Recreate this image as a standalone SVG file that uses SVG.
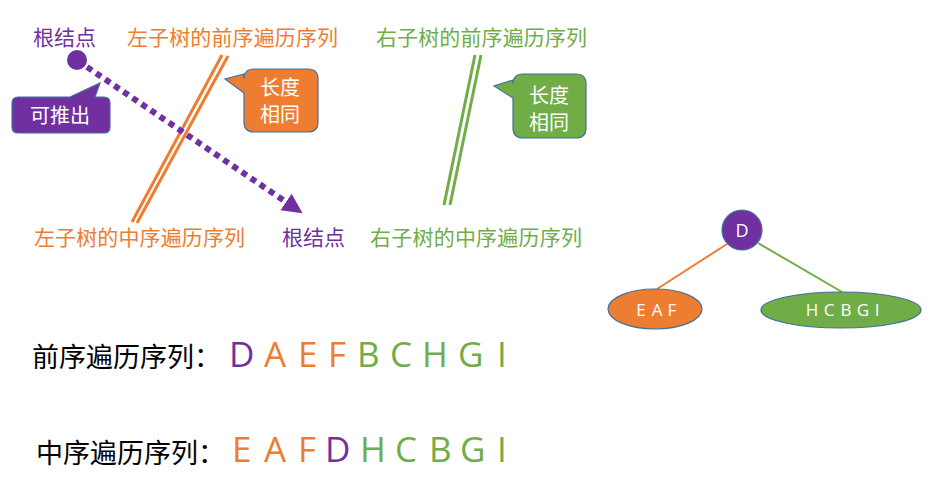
<svg xmlns="http://www.w3.org/2000/svg" width="945" height="496" viewBox="0 0 945 496">
  <style>
    .cjk { font-family: "Noto Sans CJK SC", "Noto Sans", sans-serif; }
    .lat { font-family: "Open Sans", "Liberation Sans", sans-serif; }
    .purple { fill: #7030A0; }
    .orange { fill: #ED7D31; }
    .green { fill: #70AD47; }
    .callout { stroke: #41719C; stroke-width: 1.2; }
    .ctext { fill: #FFFFFF; font-size: 20px; text-anchor: middle; }
    .node { stroke: #41719C; stroke-width: 1.2; }
    .ntext { fill: #FFFFFF; text-anchor: middle; }
    .seq { font-size: 35px; }
  </style>
  <defs>
    <marker id="arrowhead" markerUnits="userSpaceOnUse" markerWidth="22" markerHeight="22" refX="0" refY="10" orient="auto" viewBox="0 0 22 22">
      <path d="M0,0 L20,10 L0,20 Z" fill="#7030A0"/>
    </marker>
  </defs>

  <rect width="945" height="496" fill="#FFFFFF"/>

  <!-- labels along the top -->
  <g id="root-label-top" class="cjk" font-size="21">
    <text x="33" y="45" class="purple">根结点</text>
  </g>
  <g id="left-preorder-label" class="cjk" font-size="21">
    <text x="127" y="45" class="orange" textLength="211">左子树的前序遍历序列</text>
  </g>
  <g id="right-preorder-label" class="cjk" font-size="21">
    <text x="376" y="45" class="green" textLength="211">右子树的前序遍历序列</text>
  </g>

  <!-- labels along the middle -->
  <g id="left-inorder-label" class="cjk" font-size="21">
    <text x="34" y="245" class="orange" textLength="211">左子树的中序遍历序列</text>
  </g>
  <g id="root-label-bottom" class="cjk" font-size="21">
    <text x="282" y="245" class="purple">根结点</text>
  </g>
  <g id="right-inorder-label" class="cjk" font-size="21">
    <text x="370" y="245" class="green" textLength="212">右子树的中序遍历序列</text>
  </g>

  <!-- root marker dot -->
  <g id="root-dot">
    <circle cx="77" cy="60" r="10" fill="#7030A0"/>
  </g>

  <!-- connectors: equal-length bars and the dotted derivation arrow -->
  <g id="connectors">
    <line x1="222" y1="55" x2="132" y2="222" stroke="#ED7D31" stroke-width="3"/>
    <line x1="228" y1="56" x2="137" y2="223" stroke="#ED7D31" stroke-width="3"/>
    <line x1="475" y1="55" x2="444" y2="205" stroke="#70AD47" stroke-width="3"/>
    <line x1="481" y1="55" x2="450" y2="205" stroke="#70AD47" stroke-width="3"/>
    <line x1="87" y1="67" x2="286" y2="202" stroke="#7030A0" stroke-width="6" stroke-dasharray="6 5" marker-end="url(#arrowhead)"/>
    <line x1="727" y1="244" x2="657" y2="289" stroke="#ED7D31" stroke-width="2"/>
    <line x1="758" y1="243" x2="842" y2="292" stroke="#70AD47" stroke-width="2"/>
  </g>

  <!-- callouts -->
  <g id="callout-derive">
    <path class="callout" fill="#7030A0" d="M18,97 L70,97 L100,83 L95,97 L104,97 Q110,97 110,103 L110,127 Q110,133 104,133 L18,133 Q12,133 12,127 L12,103 Q12,97 18,97 Z"/>
    <text class="cjk ctext" x="60" y="123" font-size="21">可推出</text>
  </g>
  <g id="callout-left-length">
    <path class="callout" fill="#ED7D31" d="M254,69 L308,69 Q318,69 318,79 L318,122 Q318,132 308,132 L254,132 Q244,132 244,122 L244,93 L225,79 L244,74 L244,79 Q244,69 254,69 Z"/>
    <text class="cjk ctext" x="280" y="95">长度</text>
    <text class="cjk ctext" x="280" y="122">相同</text>
  </g>
  <g id="callout-right-length">
    <path class="callout" fill="#70AD47" d="M523,74 L576,74 Q586,74 586,84 L586,128 Q586,138 576,138 L523,138 Q513,138 513,128 L513,98 L494,86 L513,80 L513,84 Q513,74 523,74 Z"/>
    <text class="cjk ctext" x="549" y="103">长度</text>
    <text class="cjk ctext" x="549" y="130">相同</text>
  </g>

  <!-- small tree -->
  <g id="node-D">
    <circle class="node" cx="742" cy="230" r="20" fill="#7030A0"/>
    <text class="lat ntext" x="742" y="237" font-size="18">D</text>
  </g>
  <g id="node-EAF">
    <ellipse class="node" cx="655" cy="309" rx="47" ry="20" fill="#ED7D31"/>
    <text class="lat ntext" y="316" font-size="17"><tspan x="641">E</tspan><tspan x="657">A</tspan><tspan x="672">F</tspan></text>
  </g>
  <g id="node-HCBGI">
    <ellipse class="node" cx="841" cy="310" rx="80" ry="18" fill="#70AD47"/>
    <text class="lat ntext" y="316" font-size="17"><tspan x="812">H</tspan><tspan x="829">C</tspan><tspan x="846">B</tspan><tspan x="863">G</tspan><tspan x="877">I</tspan></text>
  </g>

  <!-- traversal sequences -->
  <g id="preorder-row">
    <text class="cjk" x="32" y="367" font-size="27" fill="#000000">前序遍历序列：</text>
    <text class="lat seq" y="367">
      <tspan x="229" fill="#7030A0">D</tspan>
      <tspan x="264" fill="#ED7D31">A</tspan>
      <tspan x="298" fill="#ED7D31">E</tspan>
      <tspan x="328" fill="#ED7D31">F</tspan>
      <tspan x="357" fill="#70AD47">B</tspan>
      <tspan x="390" fill="#70AD47">C</tspan>
      <tspan x="422" fill="#70AD47">H</tspan>
      <tspan x="458" fill="#70AD47">G</tspan>
      <tspan x="497" fill="#70AD47">I</tspan>
    </text>
  </g>
  <g id="inorder-row">
    <text class="cjk" x="36" y="463" font-size="27" fill="#000000">中序遍历序列：</text>
    <text class="lat seq" y="462">
      <tspan x="232" fill="#ED7D31">E</tspan>
      <tspan x="264" fill="#ED7D31">A</tspan>
      <tspan x="298" fill="#ED7D31">F</tspan>
      <tspan x="325" fill="#7030A0">D</tspan>
      <tspan x="360" fill="#70AD47">H</tspan>
      <tspan x="395" fill="#70AD47">C</tspan>
      <tspan x="429" fill="#70AD47">B</tspan>
      <tspan x="460" fill="#70AD47">G</tspan>
      <tspan x="497" fill="#70AD47">I</tspan>
    </text>
  </g>
</svg>
